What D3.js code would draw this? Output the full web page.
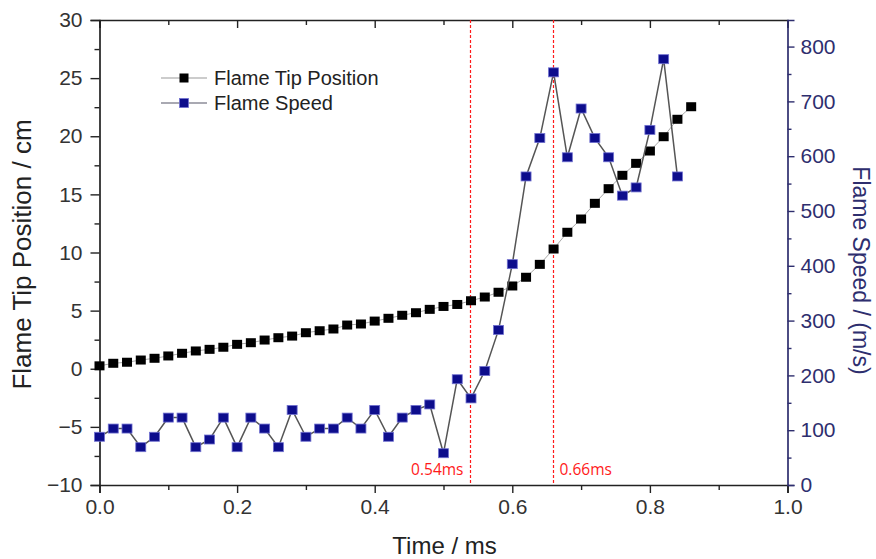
<!DOCTYPE html>
<html>
<head>
<meta charset="utf-8">
<script src="https://cdn.jsdelivr.net/npm/d3@7"></script>
<style>
  body { margin: 0; background: #fff; }
  svg text { font-family: "Liberation Sans", Arial, Helvetica, sans-serif; }
</style>
</head>
<body>
<svg id="chart" width="876" height="559"></svg>
<script>
// time in ms
const times = [
  0.00, 0.02, 0.04, 0.06, 0.08, 0.10, 0.12, 0.14, 0.16, 0.18,
  0.20, 0.22, 0.24, 0.26, 0.28, 0.30, 0.32, 0.34, 0.36, 0.38,
  0.40, 0.42, 0.44, 0.46, 0.48, 0.50, 0.52, 0.54, 0.56, 0.58,
  0.60, 0.62, 0.64, 0.66, 0.68, 0.70, 0.72, 0.74, 0.76, 0.78,
  0.80, 0.82, 0.84, 0.86
];

// flame tip position / cm (left axis)
const tipPosition = [
  0.25, 0.47, 0.56, 0.75, 0.90, 1.10, 1.33, 1.53, 1.67, 1.85,
  2.10, 2.24, 2.47, 2.67, 2.81, 3.10, 3.27, 3.42, 3.76, 3.85,
  4.10, 4.34, 4.60, 4.82, 5.11, 5.36, 5.53, 5.85, 6.17, 6.58,
  7.12, 7.87, 8.98, 10.30, 11.74, 12.88, 14.23, 15.49, 16.64, 17.67,
  18.73, 19.96, 21.46, 22.54
];

// flame speed / (m/s) (right axis)
const flameSpeed = [
  88, 103, 103, 69, 88, 123, 123, 69, 83, 123,
  69, 123, 103, 69, 137, 88, 103, 103, 123, 103,
  137, 88, 123, 137, 147, 58, 193, 158, 208, 283,
  403, 563, 633, 753, 598, 687, 633, 598, 528, 543,
  648, 777, 563
];

const xTicks = [0, 0.2, 0.4, 0.6, 0.8, 1.0];
const xMinor = [0.1, 0.3, 0.5, 0.7, 0.9];
const leftTicks = [-10, -5, 0, 5, 10, 15, 20, 25, 30];
const leftMinor = [-7.5, -2.5, 2.5, 7.5, 12.5, 17.5, 22.5, 27.5];
const rightTicks = [0, 100, 200, 300, 400, 500, 600, 700, 800];
const rightMinor = [50, 150, 250, 350, 450, 550, 650, 750];
const markers = [0.54, 0.66];
const markerLabels = ["0.54ms", "0.66ms"];

const navy = "#2e2e6e";
const plotLeft = 99.5, plotRight = 787.5, plotTop = 20, plotBottom = 485;

const svg = d3.select('#chart');

const x = d3.scaleLinear().domain([0, 1]).range([plotLeft, plotRight]);
const yL = d3.scaleLinear().domain([-10, 30]).range([plotBottom, plotTop]);
const yR = d3.scaleLinear().domain([0, 848.5]).range([plotBottom, plotTop]);

function styleAxis(g, color) {
  g.attr('font-family', null).attr('font-size', null);
  g.select('.domain').attr('stroke', color).attr('stroke-width', 1.7);
  g.selectAll('.tick line').attr('stroke', color).attr('stroke-width', 1.4);
  g.selectAll('.tick text').attr('fill', color).style('font-size', '21px');
}

// top frame with inward ticks
svg.append('g')
  .attr('transform', `translate(0,${plotTop})`)
  .call(d3.axisBottom(x).tickValues(xTicks).tickSize(8).tickFormat(''))
  .call(g => styleAxis(g, '#222'));
svg.append('g')
  .attr('transform', `translate(0,${plotTop})`)
  .call(d3.axisBottom(x).tickValues(xMinor).tickSize(5).tickFormat(''))
  .call(g => g.select('.domain').remove())
  .call(g => styleAxis(g, '#222'));

// bottom axis
svg.append('g')
  .attr('transform', `translate(0,${plotBottom})`)
  .call(d3.axisBottom(x).tickValues(xTicks).tickSize(8).tickPadding(6).tickFormat(d3.format('.1f')))
  .call(g => styleAxis(g, '#222'))
  .call(g => g.selectAll('.tick text').attr('fill', '#333'));
svg.append('g')
  .attr('transform', `translate(0,${plotBottom})`)
  .call(d3.axisBottom(x).tickValues(xMinor).tickSize(5).tickFormat(''))
  .call(g => g.select('.domain').remove())
  .call(g => styleAxis(g, '#222'));

// left axis
svg.append('g')
  .attr('transform', `translate(${plotLeft},0)`)
  .call(d3.axisLeft(yL).tickValues(leftTicks).tickSize(9).tickPadding(8))
  .call(g => styleAxis(g, '#222'))
  .call(g => g.selectAll('.tick text').attr('fill', '#333'));
svg.append('g')
  .attr('transform', `translate(${plotLeft},0)`)
  .call(d3.axisLeft(yL).tickValues(leftMinor).tickSize(5).tickFormat(''))
  .call(g => g.select('.domain').remove())
  .call(g => styleAxis(g, '#222'));

// right axis
svg.append('g')
  .attr('transform', `translate(${plotRight},0)`)
  .call(d3.axisRight(yR).tickValues(rightTicks).tickSize(7).tickPadding(6))
  .call(g => styleAxis(g, navy));
svg.append('g')
  .attr('transform', `translate(${plotRight},0)`)
  .call(d3.axisRight(yR).tickValues(rightMinor).tickSize(4).tickFormat(''))
  .call(g => g.select('.domain').remove())
  .call(g => styleAxis(g, navy));

// axis titles
svg.append('text')
  .attr('x', (plotLeft + plotRight) / 2 + 1).attr('y', 554)
  .attr('text-anchor', 'middle')
  .attr('fill', '#222')
  .style('font-size', '24px')
  .text('Time / ms');

svg.append('text')
  .attr('transform', `translate(31,${(plotTop + plotBottom) / 2 + 2}) rotate(-90)`)
  .attr('text-anchor', 'middle')
  .attr('fill', '#222')
  .style('font-size', '26px')
  .text('Flame Tip Position / cm');

svg.append('text')
  .attr('transform', `translate(853,${(plotTop + plotBottom) / 2 + 18}) rotate(90)`)
  .attr('text-anchor', 'middle')
  .attr('fill', navy)
  .style('font-size', '23px')
  .text('Flame Speed / (m/s)');

// red dashed markers
markers.forEach((m, i) => {
  const px = Math.round(x(m)) - 0.5;
  svg.append('line')
    .attr('x1', px).attr('x2', px)
    .attr('y1', plotTop).attr('y2', plotBottom)
    .attr('stroke', '#ff1a1a')
    .attr('stroke-width', 1.2)
    .attr('stroke-dasharray', '3,2');
  svg.append('text')
    .attr('x', i === 0 ? px - 7 : px + 6)
    .attr('y', 475)
    .attr('text-anchor', i === 0 ? 'end' : 'start')
    .attr('fill', '#ff1a1a')
    .style('font-family', '"Open Sans", sans-serif')
    .style('font-size', '15.5px')
    .text(markerLabels[i]);
});

// flame tip position series
const tipData = times.map((t, i) => ({t, v: tipPosition[i]}));
svg.append('path')
  .datum(tipData)
  .attr('fill', 'none')
  .attr('stroke', '#aaa')
  .attr('stroke-width', 1)
  .attr('d', d3.line().x(d => x(d.t)).y(d => yL(d.v)));

svg.selectAll('.tip')
  .data(tipData)
  .enter().append('rect')
    .attr('class', 'tip')
    .attr('x', d => x(d.t) - 5)
    .attr('y', d => yL(d.v) - 4.5)
    .attr('width', 10)
    .attr('height', 9)
    .attr('fill', '#000');

// flame speed series
const speedData = flameSpeed.map((v, i) => ({t: times[i], v}));
svg.append('path')
  .datum(speedData)
  .attr('fill', 'none')
  .attr('stroke', '#555')
  .attr('stroke-width', 1.5)
  .attr('d', d3.line().x(d => x(d.t)).y(d => yR(d.v)));

svg.selectAll('.speed')
  .data(speedData)
  .enter().append('rect')
    .attr('class', 'speed')
    .attr('x', d => x(d.t) - 5)
    .attr('y', d => yR(d.v) - 4.5)
    .attr('width', 10)
    .attr('height', 9)
    .attr('fill', '#0d0d8c')
    .attr('stroke', '#7070d0')
    .attr('stroke-width', 0.8);

// legend
const legendItems = [
  {label: 'Flame Tip Position', fill: '#000', line: '#999', stroke: 'none'},
  {label: 'Flame Speed', fill: '#0d0d8c', line: '#556', stroke: '#7070d0'}
];
const legend = svg.append('g').attr('transform', 'translate(161,78)');
legendItems.forEach((d, i) => {
  const row = legend.append('g').attr('transform', `translate(0,${i * 25})`);
  row.append('line')
    .attr('x1', 0).attr('x2', 46)
    .attr('stroke', d.line).attr('stroke-width', 1.2);
  row.append('rect')
    .attr('x', 18.5).attr('y', -4.5)
    .attr('width', 9).attr('height', 9)
    .attr('fill', d.fill)
    .attr('stroke', d.stroke).attr('stroke-width', 0.8);
  row.append('text')
    .attr('x', 53).attr('y', 7)
    .attr('fill', '#222')
    .style('font-size', '20px')
    .text(d.label);
});
</script>
</body>
</html>
